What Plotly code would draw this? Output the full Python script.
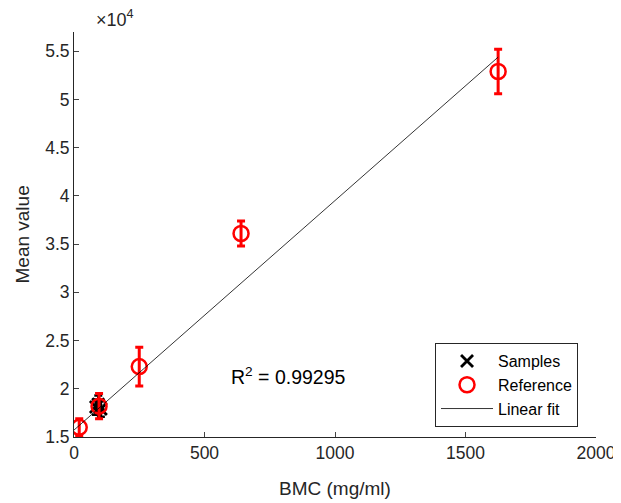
import plotly.graph_objects as go

# Reference standards
ref_x = [20, 96, 250, 640, 1625]
ref_y = [16000, 18200, 22300, 36100, 52900]
ref_err = [900, 1300, 2000, 1300, 2300]

# Samples
smp_x = [84, 93, 103]
smp_y = [18100, 18400, 17900]
smp_err = [800, 900, 800]

# Linear fit endpoints (x range of fit)
fit_x = [0, 1625]
fit_intercept = 15720
fit_slope = 23.8

y_tickvals = [15000, 20000, 25000, 30000, 35000, 40000, 45000, 50000, 55000]
y_ticktext = ["1.5", "2", "2.5", "3", "3.5", "4", "4.5", "5", "5.5"]
x_tickvals = [0, 500, 1000, 1500, 2000]

r2_text = "R<sup>2</sup> = 0.99295"

FONT = "Liberation Sans, Arial, sans-serif"
AX = "#262626"

fig = go.Figure()

fig.add_trace(go.Scatter(
    x=smp_x, y=smp_y, mode="markers", name="Samples",
    marker=dict(symbol="x-thin", size=12, line=dict(color="black", width=2.8), color="black"),
    error_y=dict(type="data", array=smp_err, color="black", thickness=2.5, width=4),
))
fig.add_trace(go.Scatter(
    x=ref_x, y=ref_y, mode="markers", name="Reference",
    marker=dict(symbol="circle-open", size=15, line=dict(color="red", width=2.5), color="red"),
    error_y=dict(type="data", array=ref_err, color="red", thickness=3, width=4),
))
fig.add_trace(go.Scatter(
    x=fit_x, y=[fit_intercept + fit_slope * v for v in fit_x], mode="lines", name="Linear fit",
    line=dict(color="black", width=0.8),
))

fig.add_annotation(x=822, y=21300, text=r2_text, showarrow=False,
                   font=dict(family=FONT, size=19.5, color="black"))
fig.add_annotation(xref="paper", yref="paper", x=0, y=1.0, xanchor="left", yanchor="bottom",
                   text="×10<sup>4</sup>", showarrow=False, xshift=20, yshift=0,
                   font=dict(family=FONT, size=18, color=AX))
# axis titles
fig.add_annotation(xref="paper", yref="paper", x=0.5, y=0, xanchor="center", yanchor="middle",
                   text="BMC (mg/ml)", showarrow=False, yshift=-51,
                   font=dict(family=FONT, size=19, color=AX))
fig.add_annotation(xref="paper", yref="paper", x=0, y=0.5, xanchor="center", yanchor="middle",
                   text="Mean value", showarrow=False, xshift=-52, textangle=-90,
                   font=dict(family=FONT, size=19, color=AX))

fig.update_layout(
    width=621, height=503,
    margin=dict(l=66, r=33, t=24, b=74),
    paper_bgcolor="white", plot_bgcolor="white",
    font=dict(family=FONT, size=17.5, color=AX),
    showlegend=True,
    legend=dict(x=0.6916, y=0.232, xanchor="left", yanchor="top",
                bgcolor="white", bordercolor=AX, borderwidth=1,
                font=dict(family=FONT, size=16, color="black"),
                itemwidth=52, tracegroupgap=0),
    xaxis=dict(range=[0, 2000], tickvals=x_tickvals, ticks="inside", ticklen=5,
               showline=True, linecolor=AX, linewidth=1, showgrid=False, zeroline=False,
               automargin=False,
               tickfont=dict(family=FONT, size=17.5, color=AX)),
    yaxis=dict(range=[15000, 57000], tickvals=y_tickvals, ticktext=y_ticktext, ticks="inside", ticklen=5,
               showline=True, linecolor=AX, linewidth=1, showgrid=False, zeroline=False,
               automargin=False,
               tickfont=dict(family=FONT, size=17.5, color=AX)),
)

fig.write_html("out.html")
